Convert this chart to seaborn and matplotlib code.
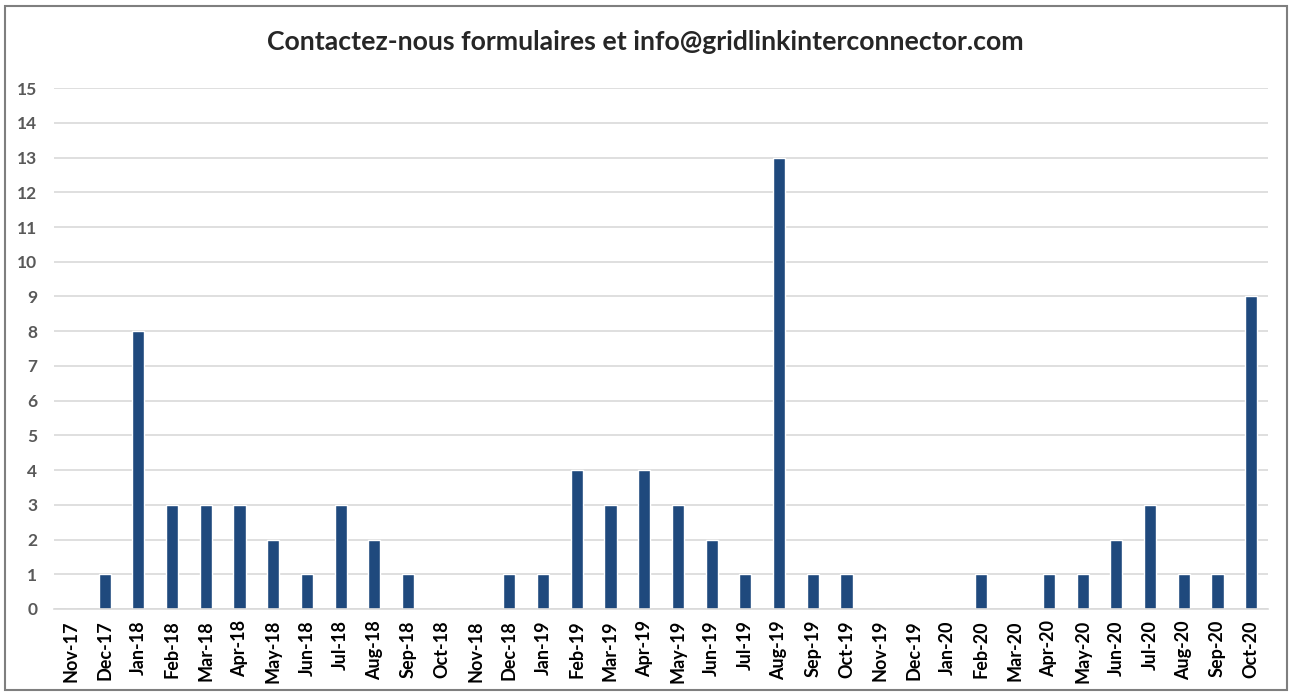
import pandas as pd
import matplotlib
matplotlib.use("Agg")
import matplotlib.pyplot as plt
import seaborn as sns
from matplotlib.patches import Rectangle
from matplotlib.ticker import FixedLocator

months = ['Nov-17', 'Dec-17', 'Jan-18', 'Feb-18', 'Mar-18', 'Apr-18', 'May-18', 'Jun-18',
          'Jul-18', 'Aug-18', 'Sep-18', 'Oct-18', 'Nov-18', 'Dec-18', 'Jan-19', 'Feb-19',
          'Mar-19', 'Apr-19', 'May-19', 'Jun-19', 'Jul-19', 'Aug-19', 'Sep-19', 'Oct-19',
          'Nov-19', 'Dec-19', 'Jan-20', 'Feb-20', 'Mar-20', 'Apr-20', 'May-20', 'Jun-20',
          'Jul-20', 'Aug-20', 'Sep-20', 'Oct-20']
counts = [0, 1, 8, 3, 3, 3, 2, 1, 3, 2, 1, 0, 0, 1, 1, 4, 3, 4, 3, 2, 1, 13, 1, 1,
          0, 0, 0, 1, 0, 1, 1, 2, 3, 1, 1, 9]
title = 'Contactez-nous formulaires et info@gridlinkinterconnector.com'

df = pd.DataFrame({'month': months, 'count': counts})

sns.set_style('white')
plt.rcParams['font.family'] = ['Lato', 'DejaVu Sans']

fig = plt.figure(figsize=(12.9, 6.94), dpi=100)
ax = fig.add_axes([0.0419, 0.1225, 0.9411, 0.7505])

sns.barplot(data=df, x='month', y='count', color='#1F497D', saturation=1,
            width=0.36, ax=ax)

ax.set_ylim(0, 15)
ax.set_xlim(-0.5, len(months) - 0.5)
ax.set_yticks(range(0, 16))
ax.yaxis.grid(True, color='#D9D9D9', linewidth=1.2)
ax.set_axisbelow(True)
for s in ['top', 'right', 'left']:
    ax.spines[s].set_visible(False)
ax.spines['bottom'].set_color('#D9D9D9')
ax.spines['bottom'].set_linewidth(1.2)

ax.set_xlabel('')
ax.set_ylabel('')
ax.tick_params(axis='y', length=0, pad=12, labelsize=12.5, labelcolor='#595959')
ax.tick_params(axis='x', which='major', length=0, pad=8, labelsize=13, rotation=90)
ax.xaxis.set_minor_locator(FixedLocator([i - 0.5 for i in range(len(months) + 1)]))
ax.tick_params(axis='x', which='minor', length=6, color='#D9D9D9', width=1.2)
for lbl in ax.get_yticklabels():
    lbl.set_fontweight('bold')
for lbl in ax.get_xticklabels():
    lbl.set_fontweight('bold')
    lbl.set_color('black')

fig.text(0.5, 0.94, title, ha='center', va='center', fontsize=19.2, fontweight='bold')

fig.patches.append(Rectangle((0.004, 0.006), 0.994, 0.986, transform=fig.transFigure,
                             fill=False, edgecolor='#7F7F7F', linewidth=1.5))

fig.savefig('out.png', dpi=100)
